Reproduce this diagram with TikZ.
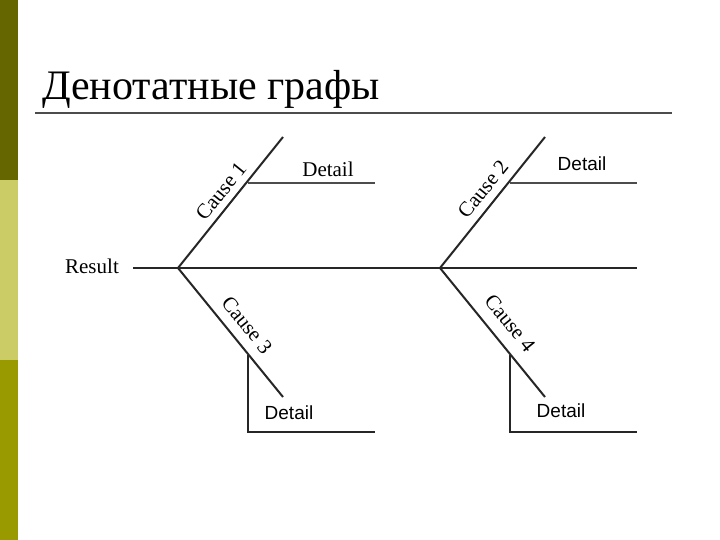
\documentclass[tikz,border=0pt]{standalone}
\usepackage{fontspec}
\setmainfont{Liberation Serif}
\setsansfont{Liberation Sans}
\definecolor{bar1}{HTML}{666600}
\definecolor{bar2}{HTML}{CCCC66}
\definecolor{bar3}{HTML}{999900}
\begin{document}
\begin{tikzpicture}[x=1pt,y=-1pt,
  ln/.style={line width=2pt,black!85},
  thin/.style={line width=1.5pt,black!70},
  ser/.style={font=\fontsize{21}{21}\selectfont,inner sep=0},
  san/.style={font=\sffamily\fontsize{19}{19}\selectfont,inner sep=0}]
\useasboundingbox (0,0) rectangle (720,540);
\fill[white] (0,0) rectangle (720,540);
\fill[bar1] (0,0) rectangle (18,180);
\fill[bar2] (0,180) rectangle (18,360);
\fill[bar3] (0,360) rectangle (18,540);
\node[anchor=base west,inner sep=0,font=\fontsize{42}{42}\selectfont] (title) at (42,100) {Денотатные графы};
\coordinate (u1) at (35,113); \coordinate (u2) at (672,113);
\draw[thin] (u1) -- (u2);
\coordinate (m0) at (133,268); \coordinate (m1) at (637,268);
\coordinate (j1) at (178,268); \coordinate (j2) at (440,268);
\coordinate (c1) at (283,137); \coordinate (c3) at (283,397);
\coordinate (c2) at (545,137); \coordinate (c4) at (545,397);
\draw[ln] (m0) -- (m1);
\draw[ln] (j1) -- (c1); \draw[ln] (j1) -- (c3);
\draw[ln] (j2) -- (c2); \draw[ln] (j2) -- (c4);
\coordinate (d1a) at (248,183); \coordinate (d1b) at (375,183);
\coordinate (d2a) at (510,183); \coordinate (d2b) at (637,183);
\draw[thin] (d1a) -- (d1b); \draw[thin] (d2a) -- (d2b);
\coordinate (d3t) at (248,355); \coordinate (d3c) at (248,432); \coordinate (d3b) at (375,432);
\coordinate (d4t) at (510,355); \coordinate (d4c) at (510,432); \coordinate (d4b) at (637,432);
\draw[ln] (d3t) -- (d3c) -- (d3b); \draw[ln] (d4t) -- (d4c) -- (d4b);
\node[ser] (res) at (92,266) {Result};
\node[ser] (l1) at (328,169) {Detail};
\node[san] (l2) at (582,164) {Detail};
\node[san] (l3) at (289,413) {Detail};
\node[san] (l4) at (561,411) {Detail};
\node[ser,rotate=51] (k1) at (221,191) {Cause 1};
\node[ser,rotate=-51] (k3) at (247,325) {Cause 3};
\node[ser,rotate=51] (k2) at (483,189) {Cause 2};
\node[ser,rotate=-51] (k4) at (510,323) {Cause 4};
\end{tikzpicture}
\end{document}
